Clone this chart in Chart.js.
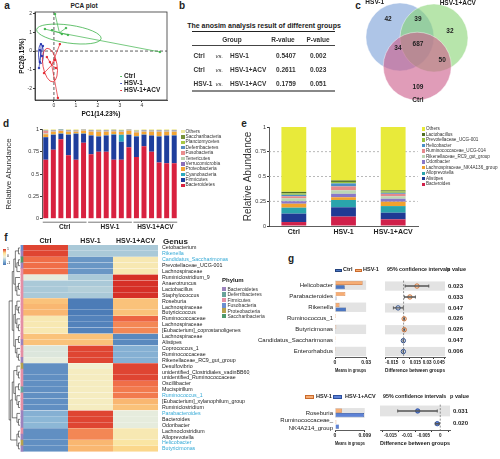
<!DOCTYPE html>
<html>
<head>
<meta charset="utf-8">
<script src="https://cdn.jsdelivr.net/npm/chart.js@4.4.0/dist/chart.umd.min.js"></script>
<style>
html, body { margin: 0; padding: 0; background: #fff; }
#wrap { position: relative; width: 500px; height: 459px; overflow: hidden; color: #222; }
#wrap canvas { position: absolute; }
.t { position: absolute; white-space: nowrap; }
.bx { position: absolute; box-sizing: border-box; }
</style>
</head>
<body>
<div id="wrap"></div>
<script>
// ---------- data ----------
// a: PCA
const pcaGroups = ['Ctrl', 'HSV-1', 'HSV-1+ACV'];
const ctrlPC1 = [-0.41, -0.09, 0.05, 0.55, 0.64, 0.36, 4.82];
const ctrlPC2 = [1.18, 1.12, 1.98, 1.23, 0.86, 0.91, -0.05];
const hsvPC1 = [-0.59, -0.5, -0.64, -0.55, -0.64, -0.68];
const hsvPC2 = [0.37, 0.27, 0.05, -0.27, -0.59, -0.91];
const acvPC1 = [0.27, -0.32, -0.18, 0.05, -0.45, 0.09, 0.18];
const acvPC2 = [0.37, -0.32, -0.59, -0.48, -1.18, -0.91, -2.51];
const pcaCentroids = [[0.25, 0.98], [-0.6, -0.15], [-0.1, -0.75]];
const pcaEllipses = [[0.68, 0.91, 1.48, 0.48, 8], [-0.59, -0.16, 0.11, 0.53, 0], [-0.18, -0.75, 0.32, 0.91, -10]];
const pcaXTicks = [0, 1, 2, 3, 4];
const pcaYTicks = [2, 1, 0, -1, -2];

// b: anosim table
const anosimA = ['Ctrl', 'Ctrl', 'HSV-1'];
const anosimB = ['HSV-1', 'HSV-1+ACV', 'HSV-1+ACV'];
const anosimR = ['0.5407', '0.2611', '0.1759'];
const anosimP = ['0.002', '0.023', '0.051'];

// c: venn
const vennSets = ['HSV-1', 'HSV-1+ACV', 'Ctrl'];
const vennX = [-0.5, 0.5, 0.01];
const vennY = [0.43, 0.4, -0.43];
const vennCounts = [42, 39, 32, 34, 687, 50, 109];
const vennCountX = [-0.85, 0.03, 0.97, -0.56, 0.03, 0.74, 0.03];
const vennCountY = [0.96, 0.96, 0.6, 0.1, 0.22, -0.25, -1.04];
const vennLabelX = [-1.24, 1.2, 0.03];
const vennLabelY = [1.46, 1.43, -1.43];

// d: phylum stacked bars (18 samples)
const dGroups = ['Ctrl', 'HSV-1', 'HSV-1+ACV'];
const dSamples = ['C1','C2','C3','C4','C5','C6','H1','H2','H3','H4','H5','H6','A1','A2','A3','A4','A5','A6'];
const phyla = ['Bacteroidetes','Firmicutes','Cyanobacteria','Proteobacteria','Verrucomicrobia','Tenericutes','Fusobacteria','Deferribacteres','Planctomycetes','Saccharibacteria','Others'];
const bacteroidetes = [0.66,0.77,0.89,0.71,0.66,0.85,0.72,0.75,0.75,0.66,0.66,0.80,0.69,0.81,0.75,0.63,0.62,0.62];
const firmicutes    = [0.25,0.17,0.06,0.23,0.29,0.10,0.21,0.17,0.18,0.28,0.20,0.14,0.23,0.13,0.18,0.29,0.31,0.31];
const cyanobacteria = [0.005,0.003,0.002,0.003,0.002,0.004,0.003,0.002,0.003,0.004,0.08,0.003,0.004,0.003,0.002,0.003,0.002,0.003];
const proteobacteria= [0.03,0.03,0.03,0.03,0.02,0.03,0.04,0.05,0.04,0.03,0.03,0.04,0.04,0.03,0.04,0.05,0.04,0.04];
const verrucomicrobia=[0.003,0.003,0.003,0.003,0.003,0.003,0.003,0.003,0.003,0.003,0.003,0.003,0.003,0.003,0.003,0.003,0.003,0.003];
const tenericutes   = [0.005,0.005,0.005,0.005,0.005,0.005,0.005,0.005,0.005,0.005,0.005,0.005,0.005,0.005,0.005,0.005,0.005,0.005];
const fusobacteria  = [0.03,0.003,0.003,0.003,0.003,0.003,0.003,0.003,0.003,0.003,0.003,0.003,0.003,0.003,0.003,0.003,0.003,0.003];
const deferribacteres=[0.004,0.004,0.004,0.004,0.004,0.004,0.004,0.004,0.004,0.004,0.004,0.004,0.004,0.004,0.004,0.004,0.004,0.004];
const planctomycetes= [0.002,0.002,0.002,0.002,0.002,0.002,0.002,0.002,0.002,0.002,0.002,0.002,0.002,0.002,0.002,0.002,0.002,0.002];
const saccharibacteria=[0.003,0.003,0.003,0.003,0.003,0.003,0.003,0.003,0.003,0.003,0.003,0.003,0.003,0.003,0.003,0.003,0.003,0.003];
const othersD       = [0.01,0.01,0.005,0.01,0.01,0.004,0.01,0.01,0.01,0.01,0.01,0.01,0.01,0.01,0.01,0.01,0.01,0.01];
const dTicks = [0, 0.25, 0.5, 0.75, 1];

// e: genus stacked bars
const eGroups = ['Ctrl', 'HSV-1', 'HSV-1+ACV'];
const eGenera = ['Bacteroides','Alistipes','Alloprevotella','Lachnospiraceae_NK4A136_group','Odoribacter','Rikenellaceae_RC9_gut_group','Ruminococcaceae_UCG-014','Helicobacter','Prevotellaceae_UCG-001','Lactobacillus','Others'];
const bacteroidesE   = [0.04, 0.095, 0.067];
const alistipesE     = [0.085, 0.094, 0.067];
const alloprevotellaE= [0.06, 0.074, 0.067];
const lachnoE        = [0.04, 0.027, 0.044];
const odoribacterE   = [0.025, 0.035, 0.03];
const rikenellaceaeE = [0.03, 0.035, 0.025];
const ruminoE        = [0.02, 0.04, 0.025];
const helicobacterE  = [0.015, 0.03, 0.01];
const prevotellaceaeE= [0.015, 0.015, 0.015];
const lactobacillusE = [0.015, 0.015, 0.01];
const othersE        = [0.655, 0.537, 0.64];

// f: heatmap
const heatCols = ['Ctrl', 'HSV-1', 'HSV-1+ACV'];
const heatGenera = ['Cetobacterium','Rikenella','Candidatus_Saccharimonas','Prevotellaceae_UCG-001','Lachnospiraceae','Ruminiclostridium_9','Anaerotruncus','Lactobacillus','Staphylococcus','Roseburia','Lachnospiraceae','Butyricicoccus','Ruminococcaceae','Lachnospiraceae','[Eubacterium]_coprostanoligenes','Lachnospiraceae','Alistipes','Coprococcus_1','Ruminococcaceae','Rikenellaceae_RC9_gut_group','Desulfovibrio','unidentified_Clostridiales_vadinBB60_group','unidentified_Ruminococcaceae','Oscillibacter','Mucispirillum','Ruminococcus_1','[Eubacterium]_xylanophilum_group','Ruminiclostridium','Parabacteroides','Bacteroides','Odoribacter','Lachnoclostridium','Alloprevotella','Helicobacter','Butyricimonas'];
const heatCtrl = [0.95,0.95,0.75,0.75,0.75,-0.05,-0.35,-0.35,-0.35,0.4,0.45,0.45,0.15,0.15,0.15,0.4,0.4,-0.1,-0.1,-0.05,-0.8,-0.8,-0.8,-0.8,-0.8,-0.8,-0.8,-0.8,-0.55,-0.5,-0.5,-0.8,-0.8,-0.8,-0.8];
const heatHSV  = [-0.35,-0.35,-0.75,-0.75,-0.75,-0.35,-0.35,-0.3,-0.35,-0.95,-0.95,-0.95,-0.9,-0.9,-0.9,0.4,0.4,0.95,0.95,0.95,0.05,0.1,0.1,0.1,0.1,0.1,0.1,0.1,0.95,0.95,0.95,0.65,0.65,0.45,0.45];
const heatACV  = [-0.35,-0.35,0.15,0.15,0.15,1.1,1.1,1.1,1.1,0.4,0.4,0.4,0.8,0.65,0.65,-0.85,-0.85,-0.55,-0.55,-0.55,0.95,0.95,0.95,0.75,0.7,0.7,0.45,0.4,-0.05,-0.05,-0.05,0.15,0.15,0.2,0.3];
const heatPhylum = ['Fusobacteria','Bacteroidetes','Saccharibacteria','Bacteroidetes','Firmicutes','Firmicutes','Firmicutes','Firmicutes','Firmicutes','Firmicutes','Firmicutes','Firmicutes','Firmicutes','Firmicutes','Firmicutes','Firmicutes','Bacteroidetes','Firmicutes','Firmicutes','Bacteroidetes','Proteobacteria','Firmicutes','Firmicutes','Firmicutes','Deferribacteres','Firmicutes','Firmicutes','Firmicutes','Bacteroidetes','Bacteroidetes','Bacteroidetes','Firmicutes','Bacteroidetes','Proteobacteria','Bacteroidetes'];
const heatHighlight = [1, 2, 25, 28, 33, 34];
const heatPhyla = ['Bacteroidetes','Deferribacteres','Firmicutes','Fusobacteria','Proteobacteria','Saccharibacteria'];
const heatTree = [[[[[0,1],[[2,3],4]],[5,[[6,7],8]]],[[[9,[10,11]],[12,[13,14]]],[[15,16],[17,[18,19]]]]],[[[[20,[21,22]],[[23,24],[25,[26,27]]]],[28,[29,30]]],[[31,32],[33,34]]]];

// g: STAMP style comparisons
const g1Genera = ['Helicobacter','Parabacteroides','Rikenella','Ruminococcus_1','Butyricimonas','Candidatus_Saccharimonas','Enterorhabdus'];
const g1Ctrl = [0.0094, 0.0014, 0.0106, 0.0003, 0.0003, 0.0003, 0.0004];
const g1HSV  = [0.0266, 0.0100, 0.0043, 0.0010, 0.0012, 0.0001, 0.0001];
const g1Diff = [0.017, 0.008, -0.007, 0.0007, 0.0009, -0.0003, -0.0003];
const g1Low  = [0.002, 0.001, -0.013, 0.0002, 0.0003, -0.0006, -0.0006];
const g1High = [0.032, 0.015, -0.0005, 0.0012, 0.0015, 0, -0.0001];
const g1P = ['0.023', '0.033', '0.047', '0.026', '0.026', '0.047', '0.006'];
const g1MeanTicks = [0, 0.03];
const g1DiffTicks = [-0.015, 0, 0.015, 0.03, 0.045];

const g2Genera = ['Roseburia', ['Ruminococcaceae_', 'NK4A214_group']];
const g2HSV = [0.0021, 0.0004];
const g2ACV = [0.0088, 0.0012];
const g2Diff = [-0.0068, -0.0009];
const g2Low  = [-0.0128, -0.0015];
const g2High = [-0.0009, -0.0003];
const g2P = ['0.031', '0.020'];
const g2MeanTicks = [0, 0.009];
const g2DiffTicks = [-0.015, -0.01, -0.005, 0];

// ---------- styles ----------
const F = '"Liberation Sans", Arial, Helvetica, sans-serif';
const pcaColors = ['#3db34a', '#2634b0', '#e3222b'];
const vennFill = ['rgba(120,158,215,0.6)', 'rgba(135,212,115,0.6)', 'rgba(205,95,140,0.62)'];
const phylaColors = ['#d8213f','#1f3e9c','#29a9bd','#f2a536','#8b6fb8','#b9cfb0','#e98e8e','#5b8dbf','#a9c845','#77923a','#eee9a0'];
const eColors = ['#d0204a','#1f3a94','#2aa4ac','#f2a22e','#8a78c8','#bcd6b4','#e5898c','#4b90c6','#99c23d','#4f6e25','#e8ea3a'];
const phylumColor = {Bacteroidetes:'#9c82bd', Deferribacteres:'#6aa39a', Firmicutes:'#e48fa5', Fusobacteria:'#6c8fd0', Proteobacteria:'#b7a24e', Saccharibacteria:'#4e9a6e'};
const heatStops = [[-1, [69,117,180]], [-0.5, [140,183,214]], [0, [240,242,222]], [0.25, [252,226,148]], [0.5, [248,172,104]], [0.75, [240,110,72]], [1.05, [214,48,39]]];
const orange = '#f6ad74', orangeDark = '#c96a2c', blue = '#4b76c2', blueDark = '#24437e';

Chart.defaults.font.family = F;
Chart.defaults.color = '#222';
Chart.defaults.animation = false;
Chart.defaults.responsive = false;
Chart.defaults.devicePixelRatio = 1;
Chart.defaults.events = [];
Chart.defaults.layout.autoPadding = false;
Chart.defaults.plugins.legend.display = false;
Chart.defaults.plugins.tooltip.enabled = false;

const wrap = document.getElementById('wrap');
function cv(x, y, w, h) {
  const c = document.createElement('canvas');
  c.width = w; c.height = h;
  c.style.left = x + 'px'; c.style.top = y + 'px';
  c.style.width = w + 'px'; c.style.height = h + 'px';
  wrap.appendChild(c);
  return c;
}
function txt(s, x, y, font, opt = {}) {
  const d = document.createElement('div');
  d.className = 't';
  d.textContent = s;
  d.style.left = x + 'px';
  d.style.top = y + 'px';
  d.style.font = font;
  const ax = opt.a === 'c' ? '-50%' : opt.a === 'r' ? '-100%' : '0';
  d.style.transform = `translate(${ax},-50%)`;
  if (opt.color) d.style.color = opt.color;
  wrap.appendChild(d);
  return d;
}
function box(x, y, w, h, bg, border) {
  const d = document.createElement('div');
  d.className = 'bx';
  Object.assign(d.style, {left: x + 'px', top: y + 'px', width: w + 'px', height: h + 'px', background: bg});
  if (border) d.style.border = border;
  wrap.appendChild(d);
  return d;
}
const fnt = (size, bold) => `${bold ? 'bold ' : ''}${size}px/1 ${F}`;
const setTicks = list => s => { s.ticks = list.map(v => ({value: v})); };
const plain = v => String(v);
const noGrid = {display: false, drawTicks: false, tickLength: 0};
const flat = {minRotation: 0, maxRotation: 0, autoSkip: false};

function heatColor(v) {
  for (let i = 1; i < heatStops.length; i++) {
    if (v <= heatStops[i][0] || i === heatStops.length - 1) {
      const [a, ca] = heatStops[i - 1], [b, cb] = heatStops[i];
      const t = Math.max(0, Math.min(1, (v - a) / (b - a)));
      const c = ca.map((k, j) => Math.round(k + (cb[j] - k) * t));
      return `rgb(${c[0]},${c[1]},${c[2]})`;
    }
  }
}

// panel letters
[['a', 7, 6], ['b', 182, 6], ['c', 358, 6], ['d', 6, 124], ['e', 244, 124], ['f', 6, 238], ['g', 291, 259]]
  .forEach(([s, x, y]) => txt(s, x, y, fnt(10, true), {a: 'c'}));

// ---------- a: PCA ----------
txt('PCA  plot', 84, 6, fnt(6.5, true), {a: 'c'});
const pcaData = [[ctrlPC1, ctrlPC2], [hsvPC1, hsvPC2], [acvPC1, acvPC2]];
const dsA = [];
pcaData.forEach(([xs, ys], g) => {
  const c = pcaCentroids[g];
  const spokes = [];
  xs.forEach((x, i) => spokes.push({x: c[0], y: c[1]}, {x, y: ys[i]}, {x: NaN, y: NaN}));
  dsA.push({type: 'line', data: spokes, borderColor: pcaColors[g], borderWidth: 0.7, pointRadius: 0, spanGaps: false});
  dsA.push({type: 'scatter', data: xs.map((x, i) => ({x, y: ys[i]})), backgroundColor: pcaColors[g], borderColor: pcaColors[g], pointRadius: 0.9, pointStyle: 'rect'});
});
const pcaDecor = {
  id: 'pcaDecor',
  beforeDatasetsDraw(ch) {
    const {ctx, chartArea: a, scales: {x, y}} = ch;
    const ux = x.getPixelForValue(1) - x.getPixelForValue(0);
    const uy = y.getPixelForValue(0) - y.getPixelForValue(1);
    ctx.save();
    ctx.strokeStyle = '#333'; ctx.lineWidth = 0.8; ctx.setLineDash([3, 2]);
    ctx.beginPath();
    ctx.moveTo(x.getPixelForValue(0), a.top); ctx.lineTo(x.getPixelForValue(0), a.bottom);
    ctx.moveTo(a.left, y.getPixelForValue(0)); ctx.lineTo(a.right, y.getPixelForValue(0));
    ctx.stroke();
    ctx.setLineDash([]);
    pcaEllipses.forEach((e, g) => {
      ctx.beginPath();
      ctx.ellipse(x.getPixelForValue(e[0]), y.getPixelForValue(e[1]), e[2] * ux, e[3] * uy, e[4] * Math.PI / 180, 0, 2 * Math.PI);
      ctx.strokeStyle = pcaColors[g]; ctx.lineWidth = 0.8; ctx.stroke();
    });
    ctx.strokeStyle = '#333'; ctx.lineWidth = 0.8;
    ctx.strokeRect(a.left, a.top, a.right - a.left, a.bottom - a.top);
    ctx.restore();
  }
};
new Chart(cv(0, 0, 170, 118), {
  type: 'scatter',
  data: {datasets: dsA},
  options: {
    layout: {padding: {top: 12, right: 3, left: 18, bottom: 0}},
    scales: {
      x: {type: 'linear', min: -0.86, max: 5.14, afterBuildTicks: setTicks(pcaXTicks), afterFit: s => { s.height = 18; },
          ticks: {...flat, font: {size: 5}, color: '#333', padding: 1, callback: plain},
          grid: {drawOnChartArea: false, tickLength: 2, color: '#333'}, border: {color: '#333', width: 0.8},
          title: {display: true, text: 'PC1(14.23%)', font: {size: 6.5, weight: 'bold'}, color: '#111', padding: 0}},
      y: {type: 'linear', min: -2.62, max: 2.09, afterBuildTicks: setTicks(pcaYTicks), afterFit: s => { s.width = 17; },
          ticks: {font: {size: 5}, color: '#333', padding: 1, callback: plain},
          grid: {drawOnChartArea: false, tickLength: 2, color: '#333'}, border: {color: '#333', width: 0.8},
          title: {display: true, text: 'PC2(9.15%)', font: {size: 6.5, weight: 'bold'}, color: '#111', padding: 0}}
    }
  },
  plugins: [pcaDecor]
});
pcaGroups.forEach((g, i) => {
  txt('-', 120, 76 + i * 7, fnt(6.5, true), {color: pcaColors[i]});
  txt(g, 124, 76 + i * 7, fnt(6.5, true));
});

// ---------- b: table ----------
txt('The anosim analysis result of different groups', 264, 25, fnt(7, true), {a: 'c'});
box(192, 31, 143, 1.3, '#222');
box(192, 45, 143, 0.8, '#444');
box(192, 90, 143, 1.5, '#888');
txt('Group', 232, 39.5, fnt(6.5, true), {a: 'c', color: '#333'});
txt('R-value', 283, 39.5, fnt(6.5, true), {a: 'c', color: '#333'});
txt('P-value', 318, 39.5, fnt(6.5, true), {a: 'c', color: '#333'});
anosimA.forEach((g, i) => {
  const y = 56 + i * 14;
  txt(g, 193.5, y, fnt(6.5, true), {color: '#333'});
  txt('vs.', 215.5, y, `italic ${fnt(6, false)}`, {color: '#333'});
  txt(anosimB[i], 230, y, fnt(6.5, true), {color: '#333'});
  txt(anosimR[i], 276, y, fnt(6.5, true), {color: '#333'});
  txt(anosimP[i], 310, y, fnt(6.5, true), {color: '#333'});
});

// ---------- c: venn ----------
const vennText = {
  id: 'vennText',
  afterDatasetsDraw(ch) {
    const {ctx, scales: {x, y}} = ch;
    ctx.save();
    ctx.fillStyle = '#222'; ctx.textAlign = 'center'; ctx.textBaseline = 'middle';
    ctx.font = `bold 6.5px ${F}`;
    vennCounts.forEach((n, i) => ctx.fillText(String(n), x.getPixelForValue(vennCountX[i]), y.getPixelForValue(vennCountY[i])));
    vennSets.forEach((s, i) => ctx.fillText(s, x.getPixelForValue(vennLabelX[i]), y.getPixelForValue(vennLabelY[i])));
    ctx.restore();
  }
};
new Chart(cv(355, 0, 145, 105), {
  type: 'bubble',
  data: {datasets: [{data: vennX.map((x, i) => ({x, y: vennY[i], r: 34})), backgroundColor: vennFill, borderColor: 'rgba(255,255,255,0.7)', borderWidth: 0.6, clip: false}]},
  options: {
    layout: {padding: 0},
    scales: {x: {display: false, min: -1.82, max: 2.44}, y: {display: false, min: -1.57, max: 1.515}}
  },
  plugins: [vennText]
});

// ---------- d: phylum bars ----------
const phylumVals = [bacteroidetes, firmicutes, cyanobacteria, proteobacteria, verrucomicrobia, tenericutes, fusobacteria, deferribacteres, planctomycetes, saccharibacteria, othersD];
const dRanges = [[0, 5], [6, 11], [12, 17]];
const groupLines = (names, ranges, font) => ({
  id: 'grpLines',
  afterDraw(ch) {
    const {ctx, chartArea: a, scales: {x}} = ch;
    ctx.save();
    ctx.strokeStyle = '#777'; ctx.lineWidth = 1; ctx.fillStyle = '#222';
    ctx.font = font; ctx.textAlign = 'center'; ctx.textBaseline = 'middle';
    ranges.forEach((r, i) => {
      const x1 = x.getPixelForValue(r[0]) - 3, x2 = x.getPixelForValue(r[1]) + 3;
      ctx.beginPath(); ctx.moveTo(x1, a.bottom + 3.5); ctx.lineTo(x2, a.bottom + 3.5); ctx.stroke();
      ctx.fillText(names[i], (x1 + x2) / 2, a.bottom + 8.5);
    });
    ctx.restore();
  }
});
new Chart(cv(0, 120, 180, 118), {
  type: 'bar',
  data: {labels: dSamples, datasets: phyla.map((p, k) => ({label: p, data: phylumVals[k], backgroundColor: phylaColors[k], barPercentage: 0.66, categoryPercentage: 1}))},
  options: {
    layout: {padding: {top: 9.3, right: 2, bottom: 19.3, left: 4}},
    scales: {
      x: {stacked: true, display: false},
      y: {stacked: true, min: 0, max: 1, afterBuildTicks: setTicks(dTicks), afterFit: s => { s.width = 38; },
          ticks: {font: {size: 5.5}, color: '#333', padding: 1, callback: plain},
          grid: {drawOnChartArea: false, tickLength: 2, color: '#333'}, border: {color: '#333', width: 0.8},
          title: {display: true, text: 'Relative Abundance', font: {size: 8}, color: '#333', padding: 0}}
    }
  },
  plugins: [groupLines(dGroups, dRanges, `bold 6.5px ${F}`)]
});
phyla.slice().reverse().forEach((p, i) => {
  const k = phyla.length - 1 - i;
  box(181, 129.9 + i * 5.36, 3.5, 3.5, phylaColors[k]);
  txt(p, 185.5, 131.7 + i * 5.36, fnt(4.8, false), {color: '#333'});
});

// ---------- e: genus bars ----------
const eVals = [bacteroidesE, alistipesE, alloprevotellaE, lachnoE, odoribacterE, rikenellaceaeE, ruminoE, helicobacterE, prevotellaceaeE, lactobacillusE, othersE];
const eDash = {
  id: 'eDash',
  beforeDatasetsDraw(ch) {
    const {ctx, chartArea: a, scales: {y}} = ch;
    ctx.save();
    ctx.strokeStyle = '#9a9a9a'; ctx.lineWidth = 0.7; ctx.setLineDash([2, 2]);
    [0.25, 0.5, 0.75].forEach(v => {
      const p = y.getPixelForValue(v);
      ctx.beginPath(); ctx.moveTo(a.left, p); ctx.lineTo(a.right, p); ctx.stroke();
    });
    ctx.restore();
  }
};
new Chart(cv(240, 120, 180, 118), {
  type: 'bar',
  data: {labels: eGroups, datasets: eGenera.map((g, k) => ({label: g, data: eVals[k], backgroundColor: eColors[k], barPercentage: 0.5, categoryPercentage: 1}))},
  options: {
    layout: {padding: {top: 7, right: 2, bottom: 0, left: 2}},
    scales: {
      x: {stacked: true, afterFit: s => { s.height = 12; },
          ticks: {...flat, font: {size: 7, weight: 'bold'}, color: '#222', padding: 2},
          grid: noGrid, border: {color: '#333', width: 0.8}},
      y: {stacked: true, min: 0, max: 1, afterBuildTicks: setTicks(dTicks), afterFit: s => { s.width = 27; },
          ticks: {font: {size: 5.5}, color: '#333', padding: 1, callback: plain},
          grid: {drawOnChartArea: false, tickLength: 2, color: '#333'}, border: {color: '#333', width: 0.8},
          title: {display: true, text: 'Relative Abundance', font: {size: 10}, color: '#333', padding: 0}}
    }
  },
  plugins: [eDash]
});
eGenera.slice().reverse().forEach((g, i) => {
  const k = eGenera.length - 1 - i;
  box(421.5, 127.3 + i * 5.53, 3.4, 3.4, eColors[k]);
  txt(g, 426, 129 + i * 5.53, fnt(4.6, false), {color: '#333'});
});

// ---------- f: heatmap ----------
const stripWidth = 0.055;
const heatDecor = {
  id: 'heatDecor',
  afterDraw(ch) {
    const {ctx, chartArea: a, scales: {x, y}} = ch;
    ctx.save();
    ctx.fillStyle = '#222'; ctx.font = `bold 7px ${F}`; ctx.textAlign = 'center'; ctx.textBaseline = 'middle';
    heatCols.forEach((c, i) => ctx.fillText(c, x.getPixelForValue(stripWidth + i + 0.5), a.top - 4));
    ctx.strokeStyle = '#222'; ctx.lineWidth = 0.6;
    const step = 1.55;
    ctx.beginPath();
    const walk = node => {
      if (typeof node === 'number') return {x: a.left - 0.5, y: y.getPixelForValue(node)};
      const l = walk(node[0]), r = walk(node[1]);
      const nx = Math.min(l.x, r.x) - step;
      ctx.moveTo(l.x, l.y); ctx.lineTo(nx, l.y); ctx.lineTo(nx, r.y); ctx.lineTo(r.x, r.y);
      return {x: nx, y: (l.y + r.y) / 2};
    };
    walk(heatTree);
    ctx.stroke();
    ctx.restore();
  }
};
const heatSeries = [heatCtrl, heatHSV, heatACV];
new Chart(cv(0, 237, 250, 222), {
  type: 'bar',
  data: {
    labels: heatGenera,
    datasets: [
      {data: heatGenera.map(() => stripWidth), backgroundColor: heatPhylum.map(p => phylumColor[p])},
      ...heatSeries.map(vals => ({data: heatGenera.map(() => 1), backgroundColor: vals.map(heatColor), borderColor: 'rgba(255,255,255,0.55)', borderWidth: {bottom: 0.5}, borderSkipped: false}))
    ]
  },
  options: {
    indexAxis: 'y',
    datasets: {bar: {barPercentage: 1, categoryPercentage: 1}},
    layout: {padding: {top: 8, bottom: 2, left: 20.5, right: 0}},
    scales: {
      x: {stacked: true, display: false, min: 0, max: 3 + stripWidth},
      y: {stacked: true, position: 'right', afterFit: s => { s.width = 92; },
          ticks: {autoSkip: false, font: {size: 5.3}, padding: 4, color: c => heatHighlight.includes(c.index) ? '#34a9d6' : '#222'},
          grid: noGrid, border: {display: false}}
    }
  },
  plugins: [heatDecor]
});
txt('Genus', 163, 241.5, fnt(8, true));
txt('Phylum', 222, 279.5, fnt(6, true));
heatPhyla.forEach((p, i) => {
  box(222, 286.8 + i * 5.4, 4, 4.5, phylumColor[p]);
  txt(p, 227.5, 289 + i * 5.4, fnt(5, false), {color: '#333'});
});
box(3, 249, 3, 16, 'linear-gradient(#d73027,#fee090,#f0f2de,#8cb7d6,#4575b4)');
txt('1', 7, 250, fnt(3.5, false));
txt('0', 7, 257, fnt(3.5, false));
txt('-1', 7, 264, fnt(3.5, false));

// ---------- g: comparisons ----------
const bandPlugin = rows => ({
  id: 'bands',
  beforeDatasetsDraw(ch) {
    const {ctx, chartArea: a, scales: {y}} = ch;
    const h = (y.getPixelForValue(1) - y.getPixelForValue(0)) * 0.85;
    ctx.save(); ctx.fillStyle = '#e3e3e3';
    rows.forEach(r => { const c = y.getPixelForValue(r); ctx.fillRect(a.left, c - h / 2, a.right - a.left, h); });
    ctx.restore();
  }
});
const zeroLine = {
  id: 'zeroLine',
  beforeDatasetsDraw(ch) {
    const {ctx, chartArea: a, scales: {x}} = ch;
    const p = x.getPixelForValue(0);
    ctx.save(); ctx.strokeStyle = '#666'; ctx.lineWidth = 0.7; ctx.setLineDash([2, 1.5]);
    ctx.beginPath(); ctx.moveTo(p, a.top); ctx.lineTo(p, a.bottom); ctx.stroke(); ctx.restore();
  }
};
function meansChart(canvas, labels, top, bottom, ticks, max, bands, height) {
  return new Chart(canvas, {
    type: 'bar',
    data: {labels, datasets: [
      {data: top.vals, backgroundColor: top.fill, borderColor: top.line, borderWidth: 0.6},
      {data: bottom.vals, backgroundColor: bottom.fill, borderColor: bottom.line, borderWidth: 0.6}
    ]},
    options: {
      indexAxis: 'y',
      datasets: {bar: {categoryPercentage: 0.8, barPercentage: 0.92}},
      layout: {padding: {top: height.top, right: 2}},
      scales: {
        y: {afterFit: s => { s.width = 95; }, ticks: {autoSkip: false, font: {size: 6}, color: '#222', padding: 2},
            grid: noGrid, border: {display: false}},
        x: {min: 0, max, afterBuildTicks: setTicks(ticks), afterFit: s => { s.height = 17; },
            ticks: {...flat, font: {size: 5, weight: 'bold'}, color: '#222', padding: 1, callback: plain},
            grid: {drawOnChartArea: false, tickLength: 2, color: '#333'}, border: {color: '#333', width: 0.8},
            title: {display: true, text: 'Means in groups', font: {size: 6, weight: 'bold'}, color: '#222', padding: 0}}
      }
    },
    plugins: [bandPlugin(bands)]
  });
}
function diffChart(canvas, labels, diff, low, high, pvals, ticks, min, max, bands, padLeft, axisW, topPad, colorFor) {
  const pts = arr => arr.map((v, i) => ({x: v, y: i}));
  return new Chart(canvas, {
    type: 'bar',
    data: {labels, datasets: [
      {type: 'bar', indexAxis: 'y', data: low.map((l, i) => [l, high[i]]), backgroundColor: '#555', barThickness: 0.8},
      {type: 'scatter', data: pts(low), pointStyle: 'line', pointRotation: 90, pointRadius: 1.6, pointBorderColor: '#555', pointBorderWidth: 0.8},
      {type: 'scatter', data: pts(high), pointStyle: 'line', pointRotation: 90, pointRadius: 1.6, pointBorderColor: '#555', pointBorderWidth: 0.8},
      {type: 'scatter', data: pts(diff), pointRadius: 2.2, pointBackgroundColor: diff.map(d => colorFor(d)[0]), pointBorderColor: diff.map(d => colorFor(d)[1]), pointBorderWidth: 0.9}
    ]},
    options: {
      layout: {padding: {top: topPad, left: padLeft}},
      scales: {
        y: {type: 'category', position: 'right', offset: true, afterFit: s => { s.width = axisW; },
            ticks: {autoSkip: false, font: {size: 6, weight: 'bold'}, color: '#222', padding: 3, callback: (v, i) => pvals[i]},
            grid: noGrid, border: {display: false}},
        x: {type: 'linear', min, max, afterBuildTicks: setTicks(ticks), afterFit: s => { s.height = 17; },
            ticks: {...flat, font: {size: 4.6, weight: 'bold'}, color: '#222', padding: 1, callback: plain},
            grid: {drawOnChartArea: false, tickLength: 2, color: '#333'}, border: {color: '#333', width: 0.8},
            title: {display: true, text: 'Difference between groups', font: {size: 6, weight: 'bold'}, color: '#222', padding: 0}}
      }
    },
    plugins: [bandPlugin(bands), zeroLine]
  });
}

// g top block: Ctrl vs HSV-1
meansChart(cv(240, 274, 132, 100), g1Genera,
  {vals: g1HSV, fill: orange, line: orangeDark}, {vals: g1Ctrl, fill: blue, line: blueDark},
  g1MeanTicks, 0.03, [0, 2, 4, 6], {top: 1.5});
diffChart(cv(375, 274, 100, 100), g1Genera, g1Diff, g1Low, g1High, g1P, g1DiffTicks, -0.016, 0.045, [0, 2, 4, 6], 10, 30, 1.5,
  d => d >= 0 ? ['#fbe3cf', orangeDark] : ['#dbe5f6', blueDark]);
box(335, 268.5, 7, 3.2, blue, `0.6px solid ${blueDark}`);
txt('Ctrl', 343, 270, fnt(5.5, true));
box(355, 268.5, 7, 3.2, orange, `0.6px solid ${orangeDark}`);
txt('HSV-1', 363, 270, fnt(5.5, true));
txt('95% confidence intervals', 387, 270, fnt(5.3, true));
txt('p value', 447, 270, fnt(5.5, true));

// g bottom block: HSV-1 vs HSV-1+ACV
meansChart(cv(240, 398, 132, 49), g2Genera,
  {vals: g2HSV, fill: orange, line: orangeDark}, {vals: g2ACV, fill: '#5d82d6', line: '#2d4f9e'},
  g2MeanTicks, 0.009, [0], {top: 2.5});
diffChart(cv(375, 398, 100, 49), g2Genera, g2Diff, g2Low, g2High, g2P, g2DiffTicks, -0.0155, 0.0003, [0], 5, 25, 2.5,
  d => d >= 0 ? [orange, orangeDark] : ['#5d82d6', '#2d4f9e']);
box(305, 395, 9, 4, orange, `0.6px solid ${orangeDark}`);
txt('HSV-1', 316, 397, fnt(5.5, true));
box(333, 395, 9, 4, '#5d82d6', '0.6px solid #2d4f9e');
txt('HSV-1+ACV', 345, 397, fnt(5.5, true));
txt('95% confidence intervals', 383, 397, fnt(5.3, true));
txt('p value', 450, 397, fnt(5.5, true));
</script>
</body>
</html>
